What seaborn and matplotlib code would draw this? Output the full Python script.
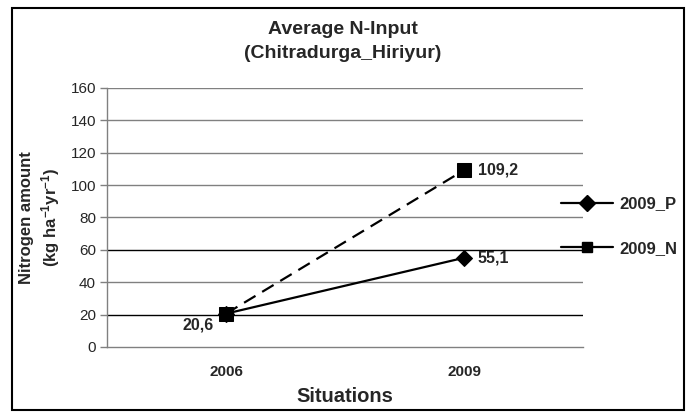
import matplotlib
matplotlib.use("Agg")
import matplotlib.pyplot as plt
import seaborn as sns
import pandas as pd
from matplotlib.patches import Rectangle
from matplotlib.lines import Line2D

situations = ["2006", "2009"]
series_names = ["2009_P", "2009_N"]
values_p = [20.6, 55.1]
values_n = [20.6, 109.2]
y_ticks = [0, 20, 40, 60, 80, 100, 120, 140, 160]
point_labels = ["20,6", "55,1", "109,2"]

sns.set_theme(style="white")
plt.rcParams['font.family'] = ['Liberation Sans', 'DejaVu Sans']
plt.rcParams['mathtext.fontset'] = 'custom'
plt.rcParams['mathtext.rm'] = 'Liberation Sans:bold'
plt.rcParams['mathtext.it'] = 'Liberation Sans:bold'
plt.rcParams['mathtext.bf'] = 'Liberation Sans:bold'

df = pd.DataFrame({
    "pos": [0, 1, 0, 1],
    "value": values_p + values_n,
    "series": [series_names[0]] * 2 + [series_names[1]] * 2,
})

W, H = 691, 412
fig = plt.figure(figsize=(W / 100, H / 100), dpi=100)
ax = fig.add_axes([107 / W, 1 - 347 / H, (583 - 107) / W, (347 - 88) / H])

# grid lines
for v in y_ticks[1:]:
    col = "black" if v in (20, 60) else "#808080"
    ax.axhline(v, color=col, lw=1.0, zorder=0)

sns.lineplot(data=df, x="pos", y="value", hue="series", style="series",
             hue_order=series_names, style_order=series_names,
             palette={"2009_P": "black", "2009_N": "black"},
             markers={"2009_P": "D", "2009_N": "s"},
             dashes={"2009_P": "", "2009_N": (6, 3.5)},
             markersize=8, linewidth=1.6, markeredgecolor="black",
             legend=False, ax=ax, zorder=3)
for ln in ax.get_lines():
    if ln.get_marker() == "s":
        ln.set_markersize(9.5)
    elif ln.get_marker() == "D":
        ln.set_markersize(8)

ax.set_xlim(-0.5, 1.5)
ax.set_ylim(0, 160)
ax.set_yticks(y_ticks)
ax.set_yticklabels([str(v) for v in y_ticks], fontsize=11)
ax.set_xticks([0, 1])
ax.set_xticklabels(situations, fontsize=11, fontweight="bold")
ax.set_xticks([0.5], minor=True)
ax.tick_params(axis="x", which="major", length=0, pad=13)
ax.tick_params(axis="x", which="minor", length=5, width=1, color="#808080", direction="out")
ax.tick_params(axis="y", which="major", length=5, width=1, color="#808080", direction="out", left=True, pad=3)

for s in ["top", "right"]:
    ax.spines[s].set_visible(False)
for s in ["left", "bottom"]:
    ax.spines[s].set_color("#808080")
    ax.spines[s].set_linewidth(1.0)

ax.set_xlabel("Situations", fontsize=14.5, fontweight="bold", labelpad=6)
ax.set_ylabel("Nitrogen amount\n(kg ha$^{-1}$yr$^{-1}$)", fontsize=12, fontweight="bold",
              labelpad=6, linespacing=1.3)

# data labels
ax.annotate(point_labels[0], (0, values_p[0]), xytext=(-9, -8), textcoords="offset points",
            ha="right", va="center", fontsize=11.5, fontweight="bold")
ax.annotate(point_labels[1], (1, values_p[1]), xytext=(10, 0), textcoords="offset points",
            ha="left", va="center", fontsize=11.5, fontweight="bold")
ax.annotate(point_labels[2], (1, values_n[1]), xytext=(10, 0), textcoords="offset points",
            ha="left", va="center", fontsize=11.5, fontweight="bold")

# title
fig.text(343 / W, 1 - 30 / H, "Average N-Input", ha="center", va="center", fontsize=14, fontweight="bold")
fig.text(343 / W, 1 - 53 / H, "(Chitradurga_Hiriyur)", ha="center", va="center", fontsize=14, fontweight="bold")

# legend
handles = [
    Line2D([], [], color="black", lw=1.6, marker="D", markersize=8, label=series_names[0]),
    Line2D([], [], color="black", lw=1.6, marker="s", markersize=7, label=series_names[1]),
]
leg = fig.legend(handles=handles, loc="center left", bbox_to_anchor=(546 / W, 1 - 226 / H),
                 frameon=False, prop={"weight": "bold", "size": 12},
                 handlelength=3.1, labelspacing=1.75, handletextpad=0.42)

# outer frame
fig.patches.append(Rectangle((12 / W, 1 - 410 / H), (684 - 12) / W, (410 - 8) / H,
                             transform=fig.transFigure, fill=False, edgecolor="black", lw=1.5))

fig.savefig("out.png", dpi=100)
